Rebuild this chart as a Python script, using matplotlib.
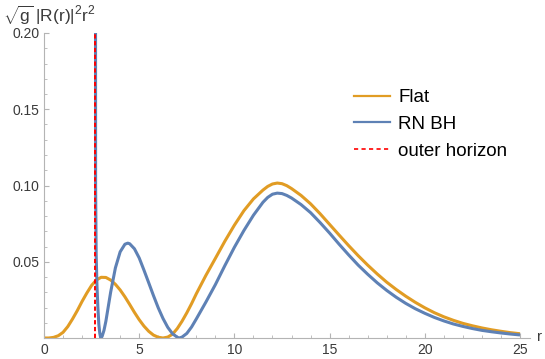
import matplotlib
matplotlib.use("Agg")
from matplotlib import pyplot as plt
from matplotlib.lines import Line2D

# values
flat_r = [0, 0.25, 0.5, 0.75, 1.0, 1.25, 1.5, 1.75, 2.0, 2.25, 2.5, 2.75, 3.0, 3.25,
          3.5, 3.75, 4.0, 4.25, 4.5, 4.75, 5.0, 5.25, 5.5, 5.75, 6.0, 6.25, 6.5, 6.75,
          7.0, 7.25, 7.5, 7.75, 8.0, 8.5, 9.0, 9.5, 10, 10.5, 11, 11.5, 11.75, 12,
          12.25, 12.5, 12.75, 13, 13.5, 14, 14.5, 15, 15.5, 16, 16.5, 17, 17.5, 18,
          18.5, 19, 19.5, 20, 20.5, 21, 21.5, 22, 22.5, 23, 23.5, 24, 24.5, 25]
flat_p = [0, 0.0000, 0.0004, 0.0015, 0.0037, 0.0075, 0.0125, 0.018, 0.024, 0.0295,
          0.0345, 0.038, 0.0398, 0.0397, 0.038, 0.0352, 0.0315, 0.027, 0.022, 0.0168,
          0.012, 0.0078, 0.0044, 0.0019, 0.0005, 0.0, 0.0006, 0.0025, 0.0062, 0.0110,
          0.0165, 0.0225, 0.0290, 0.0410, 0.0522, 0.0635, 0.0740, 0.0835, 0.0912,
          0.0970, 0.0994, 0.1010, 0.1016, 0.1012, 0.0999, 0.0980, 0.0935, 0.0880,
          0.0815, 0.0745, 0.0675, 0.0606, 0.0540, 0.0478, 0.0420, 0.0366, 0.0318,
          0.0274, 0.0234, 0.0198, 0.0166, 0.0139, 0.0116, 0.0096, 0.0080, 0.0066,
          0.0054, 0.0044, 0.0035, 0.0028]

rn_r = [2.69, 2.71, 2.74, 2.78, 2.83, 2.88, 2.93, 2.98, 3.05, 3.15, 3.25, 3.5, 3.75,
        4.0, 4.25, 4.4, 4.5, 4.75, 5.0, 5.25, 5.5, 5.75, 6.0, 6.25, 6.5, 6.75, 7.0,
        7.1, 7.25, 7.5, 7.75, 8.0, 8.5, 9.0, 9.5, 10, 10.5, 11, 11.5, 11.75, 12,
        12.25, 12.5, 12.75, 13, 13.5, 14, 14.5, 15, 15.5, 16, 16.5, 17, 17.5, 18,
        18.5, 19, 19.5, 20, 20.5, 21, 21.5, 22, 22.5, 23, 23.5, 24, 24.5, 25]
rn_p = [0.8, 0.1, 0.055, 0.035, 0.02, 0.009, 0.003, 0.0, 0.001, 0.005, 0.011, 0.030,
        0.046, 0.0565, 0.0615, 0.0622, 0.0618, 0.0585, 0.0525, 0.0445, 0.0362, 0.0278,
        0.0198, 0.0128, 0.0070, 0.0028, 0.0005, 0.0, 0.0006, 0.0030, 0.0072, 0.0125,
        0.0235, 0.0350, 0.0475, 0.0595, 0.0705, 0.0805, 0.0890, 0.0922, 0.0943,
        0.0950, 0.0947, 0.0935, 0.0918, 0.0875, 0.0822, 0.0757, 0.0688, 0.0615,
        0.0545, 0.0478, 0.0418, 0.0362, 0.0312, 0.0267, 0.0227, 0.0192, 0.0162,
        0.0135, 0.0112, 0.0092, 0.0076, 0.0062, 0.0050, 0.0041, 0.0033, 0.0026,
        0.0020]

horizon_r = 2.68
x_ticks = [0, 5, 10, 15, 20, 25]
y_ticks = [0.05, 0.10, 0.15, 0.20]
y_tick_labels = ["0.05", "0.10", "0.15", "0.20"]

orange = "#E19C24"
blue = "#5E81B5"
axis_gray = "#b4b4b4"
text_gray = "#3a3a3a"

plt.rcParams['font.family'] = ['Liberation Sans', 'DejaVu Sans']
plt.rcParams['mathtext.fontset'] = 'custom'
plt.rcParams['mathtext.rm'] = 'Liberation Sans'
plt.rcParams['mathtext.it'] = 'Liberation Sans:italic'

fig = plt.figure(figsize=(5.45, 3.59), dpi=100)
ax = fig.add_axes([44 / 545, 21 / 359, 486 / 545, 305 / 359])

ax.plot(flat_r, flat_p, color=orange, lw=2.2, solid_capstyle='butt')
ax.plot(rn_r, rn_p, color=blue, lw=2.2, solid_capstyle='butt')
ax.plot([horizon_r, horizon_r], [0, 0.2], color="red", lw=1.4, dashes=(2.2, 1.3))

ax.set_xlim(0, 486 / 19.04)
ax.set_ylim(0, 0.2)

for s in ["top", "right"]:
    ax.spines[s].set_visible(False)
for s in ["left", "bottom"]:
    ax.spines[s].set_color(axis_gray)
    ax.spines[s].set_linewidth(0.8)

ax.set_xticks(x_ticks)
ax.set_xticks(range(1, 26), minor=True)
ax.set_yticks(y_ticks)
ax.set_yticklabels(y_tick_labels)
ax.set_yticks([i / 100 for i in range(1, 20)], minor=True)
ax.tick_params(which="both", direction="in", colors=axis_gray, labelcolor=text_gray,
               labelsize=10)
ax.tick_params(which="major", length=3.5, width=0.8)
ax.tick_params(which="minor", length=2.0, width=0.6)
ax.tick_params(axis="x", pad=3.5)
ax.tick_params(axis="y", pad=3)

handles = [Line2D([], [], color=orange, lw=1.6),
           Line2D([], [], color=blue, lw=1.6),
           Line2D([], [], color="red", lw=1.2, dashes=(2.5, 2))]
ax.legend(handles, ["Flat", "RN BH", "outer horizon"], loc="upper left",
          bbox_to_anchor=(354 / 545, 1 - 89 / 359), bbox_transform=fig.transFigure,
          frameon=False, fontsize=13.5, handlelength=1.93, handletextpad=0.43,
          labelspacing=0.52, borderpad=0, borderaxespad=0)

fig.text(3 / 545, 1 - 15 / 359,
         r'$\sqrt{\mathrm{g}}\;|\mathrm{R(r)}|^2\mathrm{r}^2$',
         fontsize=12.5, color=text_gray, va="center", ha="left")
fig.text(537 / 545, 1 - 337 / 359, "r", fontsize=11, color=text_gray,
         va="center", ha="left")

fig.savefig("out.png", dpi=100)
